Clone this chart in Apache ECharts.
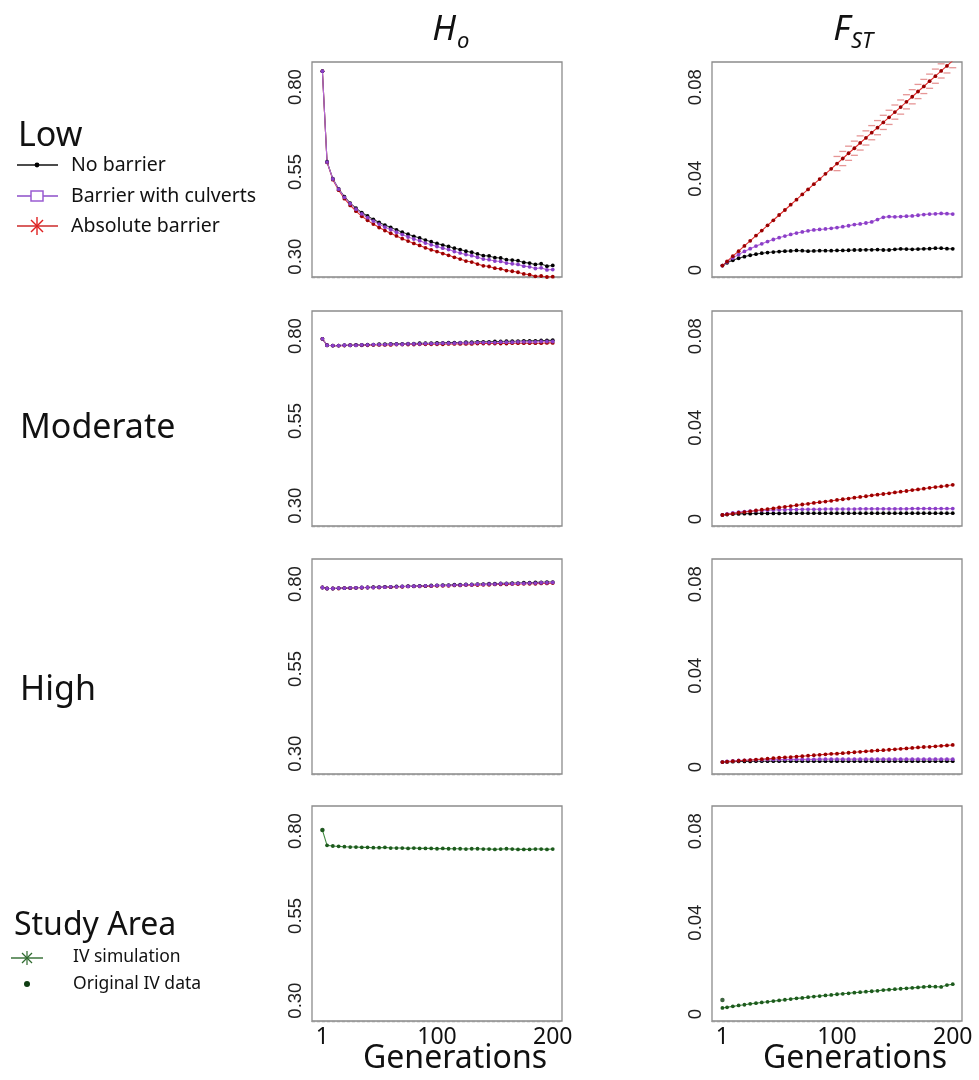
<!DOCTYPE html>
<html><head><meta charset="utf-8">
<script src="https://cdn.jsdelivr.net/npm/echarts@6/dist/echarts.min.js"></script>
<style>html,body{margin:0;padding:0;background:#fff}#c{width:979px;height:1080px}</style>
</head><body><div id="c"></div>
<script>
// ---------------- data ----------------
const generations = [1,5,10,15,20,25,30,35,40,45,50,55,60,65,70,75,80,85,90,95,100,105,110,115,120,125,130,135,140,145,150,155,160,165,170,175,180,185,190,195,200];
const rowNames = ['Low','Moderate','High','Study Area'];
const seriesNames = ['No barrier','Barrier with culverts','Absolute barrier'];
const studyNames = ['IV simulation','Original IV data'];
const hoTicks = [0.30,0.55,0.80];
const fstTicks = [0,0.04,0.08];
const genTicks = [1,100,200];
const xTitle = 'Generations';

// Low - Ho
const lowHoNo = [0.847,0.580,0.530,0.500,0.477,0.458,0.443,0.430,0.420,0.410,0.401,0.393,0.386,0.379,0.372,0.366,0.360,0.355,0.349,0.344,0.339,0.334,0.330,0.325,0.321,0.316,0.313,0.308,0.303,0.302,0.297,0.296,0.291,0.290,0.288,0.283,0.281,0.277,0.279,0.272,0.274];
const lowHoCulv = [0.847,0.579,0.529,0.499,0.475,0.456,0.440,0.426,0.415,0.405,0.396,0.387,0.380,0.372,0.365,0.358,0.352,0.347,0.340,0.335,0.330,0.325,0.321,0.315,0.311,0.306,0.303,0.298,0.293,0.291,0.287,0.286,0.281,0.279,0.277,0.272,0.270,0.265,0.267,0.261,0.262];
const lowHoAbs = [0.847,0.578,0.527,0.496,0.471,0.451,0.434,0.419,0.407,0.396,0.386,0.377,0.369,0.361,0.353,0.346,0.339,0.333,0.326,0.320,0.315,0.309,0.304,0.298,0.293,0.287,0.284,0.278,0.273,0.271,0.266,0.264,0.259,0.257,0.254,0.249,0.247,0.242,0.243,0.240,0.241];
// Low - Fst
const lowFstNo = [0.0020,0.0032,0.0043,0.0052,0.0059,0.0065,0.0070,0.0074,0.0077,0.0079,0.0081,0.0083,0.0084,0.0086,0.0085,0.0083,0.0084,0.0085,0.0085,0.0085,0.0086,0.0086,0.0087,0.0088,0.0088,0.0089,0.0089,0.0090,0.0088,0.0088,0.0091,0.0093,0.0092,0.0091,0.0092,0.0093,0.0094,0.0096,0.0096,0.0094,0.0093];
const lowFstCulv = [0.0020,0.0036,0.0053,0.0068,0.0082,0.0094,0.0105,0.0115,0.0125,0.0134,0.0142,0.0149,0.0156,0.0162,0.0167,0.0172,0.0176,0.0178,0.0180,0.0183,0.0186,0.0190,0.0194,0.0199,0.0202,0.0206,0.0211,0.0221,0.0231,0.0234,0.0233,0.0234,0.0236,0.0237,0.0240,0.0243,0.0245,0.0246,0.0248,0.0247,0.0245];
const lowFstAbs = [0.0020,0.0038,0.0061,0.0083,0.0106,0.0128,0.0151,0.0173,0.0196,0.0218,0.0241,0.0263,0.0286,0.0308,0.0331,0.0353,0.0376,0.0398,0.0421,0.0443,0.0466,0.0488,0.0511,0.0533,0.0556,0.0578,0.0601,0.0623,0.0646,0.0668,0.0691,0.0713,0.0736,0.0758,0.0781,0.0803,0.0826,0.0848,0.0871,0.0893,0.0916];
const ciGenerations = [100,105,110,115,120,125,130,135,140,145,150,155,160,165,170,175,180,185,190,195,200];
const lowFstAbsUpper = [0.0497,0.0519,0.0542,0.0564,0.0587,0.0609,0.0632,0.0654,0.0677,0.0699,0.0722,0.0744,0.0767,0.0789,0.0812,0.0834,0.0857,0.0879,0.0902,0.0924,0.0947];
const lowFstAbsLower = [0.0435,0.0457,0.0480,0.0502,0.0525,0.0547,0.0570,0.0592,0.0615,0.0637,0.0660,0.0682,0.0705,0.0727,0.0750,0.0772,0.0795,0.0817,0.0840,0.0862,0.0885];
// Moderate - Ho
const modHoNo = [0.792,0.773,0.772,0.772,0.773,0.773,0.774,0.774,0.775,0.775,0.776,0.776,0.777,0.777,0.777,0.778,0.778,0.779,0.779,0.779,0.780,0.780,0.781,0.781,0.781,0.782,0.782,0.783,0.783,0.783,0.784,0.784,0.785,0.785,0.785,0.786,0.786,0.786,0.787,0.787,0.788];
const modHoCulv = [0.792,0.773,0.772,0.772,0.773,0.773,0.773,0.774,0.774,0.775,0.775,0.775,0.776,0.776,0.776,0.777,0.777,0.777,0.778,0.778,0.778,0.779,0.779,0.779,0.780,0.780,0.780,0.781,0.781,0.781,0.781,0.782,0.782,0.782,0.783,0.783,0.783,0.783,0.784,0.784,0.784];
const modHoAbs = [0.792,0.773,0.772,0.772,0.772,0.773,0.773,0.773,0.773,0.774,0.774,0.774,0.774,0.775,0.775,0.775,0.775,0.776,0.776,0.776,0.776,0.776,0.777,0.777,0.777,0.777,0.777,0.778,0.778,0.778,0.778,0.778,0.778,0.779,0.779,0.779,0.779,0.779,0.779,0.780,0.780];
// Moderate - Fst
const modFstNo = [0.0018,0.0020,0.0022,0.0023,0.0024,0.0024,0.0025,0.0025,0.0025,0.0025,0.0025,0.0026,0.0026,0.0026,0.0026,0.0026,0.0026,0.0026,0.0026,0.0026,0.0026,0.0026,0.0026,0.0026,0.0026,0.0026,0.0026,0.0026,0.0026,0.0026,0.0026,0.0026,0.0026,0.0026,0.0026,0.0026,0.0026,0.0026,0.0026,0.0026,0.0026];
const modFstCulv = [0.0018,0.0023,0.0027,0.0031,0.0033,0.0035,0.0037,0.0038,0.0039,0.0040,0.0041,0.0041,0.0042,0.0042,0.0043,0.0043,0.0043,0.0043,0.0044,0.0044,0.0044,0.0044,0.0044,0.0044,0.0045,0.0045,0.0045,0.0045,0.0045,0.0045,0.0045,0.0045,0.0045,0.0046,0.0046,0.0046,0.0046,0.0046,0.0046,0.0046,0.0046];
const modFstAbs = [0.0018,0.0021,0.0024,0.0028,0.0031,0.0034,0.0038,0.0041,0.0044,0.0047,0.0051,0.0054,0.0057,0.0061,0.0064,0.0067,0.0071,0.0074,0.0077,0.0080,0.0084,0.0087,0.0090,0.0094,0.0097,0.0100,0.0104,0.0107,0.0110,0.0113,0.0117,0.0120,0.0123,0.0127,0.0130,0.0133,0.0137,0.0140,0.0143,0.0146,0.0150];
// High - Ho
const highHoNo = [0.790,0.787,0.787,0.788,0.788,0.789,0.789,0.790,0.790,0.791,0.791,0.792,0.792,0.793,0.793,0.794,0.794,0.795,0.795,0.796,0.796,0.797,0.797,0.798,0.798,0.799,0.799,0.800,0.800,0.801,0.801,0.802,0.802,0.803,0.803,0.804,0.804,0.805,0.805,0.806,0.806];
const highHoCulv = [0.790,0.787,0.787,0.788,0.788,0.789,0.789,0.790,0.790,0.790,0.791,0.791,0.792,0.792,0.793,0.793,0.794,0.794,0.795,0.795,0.796,0.796,0.796,0.797,0.797,0.798,0.798,0.799,0.799,0.800,0.800,0.801,0.801,0.801,0.802,0.802,0.803,0.803,0.804,0.804,0.805];
const highHoAbs = [0.790,0.787,0.787,0.787,0.788,0.788,0.789,0.789,0.790,0.790,0.790,0.791,0.791,0.792,0.792,0.793,0.793,0.793,0.794,0.794,0.795,0.795,0.795,0.796,0.796,0.797,0.797,0.797,0.798,0.798,0.799,0.799,0.799,0.800,0.800,0.801,0.801,0.801,0.802,0.802,0.803];
// High - Fst
const highFstNo = [0.0022,0.0023,0.0024,0.0025,0.0025,0.0025,0.0026,0.0026,0.0026,0.0026,0.0026,0.0026,0.0026,0.0026,0.0026,0.0026,0.0026,0.0026,0.0026,0.0026,0.0026,0.0026,0.0026,0.0026,0.0026,0.0026,0.0026,0.0026,0.0026,0.0026,0.0026,0.0026,0.0026,0.0026,0.0026,0.0026,0.0026,0.0026,0.0026,0.0026,0.0026];
const highFstCulv = [0.0022,0.0025,0.0027,0.0029,0.0030,0.0031,0.0032,0.0032,0.0033,0.0033,0.0033,0.0034,0.0034,0.0034,0.0034,0.0034,0.0034,0.0035,0.0035,0.0035,0.0035,0.0035,0.0035,0.0035,0.0035,0.0035,0.0035,0.0035,0.0035,0.0035,0.0035,0.0035,0.0035,0.0035,0.0035,0.0035,0.0035,0.0035,0.0035,0.0035,0.0035];
const highFstAbs = [0.0022,0.0024,0.0026,0.0028,0.0030,0.0031,0.0033,0.0035,0.0037,0.0039,0.0041,0.0043,0.0044,0.0046,0.0048,0.0050,0.0052,0.0054,0.0056,0.0058,0.0059,0.0061,0.0063,0.0065,0.0067,0.0069,0.0071,0.0073,0.0074,0.0076,0.0078,0.0080,0.0082,0.0084,0.0086,0.0088,0.0089,0.0091,0.0093,0.0095,0.0097];
// Study Area
const studyHoSim = [0.803,0.758,0.756,0.755,0.754,0.753,0.753,0.752,0.752,0.751,0.751,0.752,0.750,0.750,0.750,0.749,0.750,0.749,0.749,0.749,0.748,0.749,0.748,0.748,0.748,0.747,0.748,0.748,0.747,0.747,0.746,0.747,0.748,0.747,0.746,0.746,0.746,0.747,0.747,0.746,0.747];
const studyHoOrig = [0.803];
const studyFstSim = [0.0027,0.0030,0.0034,0.0038,0.0041,0.0045,0.0048,0.0051,0.0054,0.0057,0.0060,0.0063,0.0066,0.0069,0.0071,0.0074,0.0077,0.0079,0.0082,0.0084,0.0087,0.0089,0.0091,0.0094,0.0096,0.0098,0.0100,0.0102,0.0105,0.0107,0.0109,0.0111,0.0113,0.0115,0.0117,0.0119,0.0121,0.0120,0.0119,0.0127,0.0131];
const studyFstOrig = [0.0062];
const origGeneration = [1];

// ---------------- styling ----------------
const COL = {
  no:   {line:'#3a3a3a', dot:'#000000'},
  culv: {line:'#b868d8', dot:'#8a3fc8'},
  abs:  {line:'#e23030', dot:'#9a0000'},
  sim:  {line:'#3f8a3f', dot:'#1d5a1d'},
  orig: {line:'#0f3d12', dot:'#0f3d12'}
};
const LEFT = [312, 712], WIDTH = 250, TOPS = [62, 311, 559, 806], HEIGHT = 215;

const panels = [
  {r:0,c:0,k:'ho', s:[[seriesNames[2],lowHoAbs,'abs'],[seriesNames[0],lowHoNo,'no'],[seriesNames[1],lowHoCulv,'culv']]},
  {r:0,c:1,k:'fst',s:[[seriesNames[0],lowFstNo,'no'],[seriesNames[1],lowFstCulv,'culv'],[seriesNames[2],lowFstAbs,'abs']], ci:true},
  {r:1,c:0,k:'ho', s:[[seriesNames[2],modHoAbs,'abs'],[seriesNames[0],modHoNo,'no'],[seriesNames[1],modHoCulv,'culv']]},
  {r:1,c:1,k:'fst',s:[[seriesNames[0],modFstNo,'no'],[seriesNames[1],modFstCulv,'culv'],[seriesNames[2],modFstAbs,'abs']]},
  {r:2,c:0,k:'ho', s:[[seriesNames[2],highHoAbs,'abs'],[seriesNames[0],highHoNo,'no'],[seriesNames[1],highHoCulv,'culv']]},
  {r:2,c:1,k:'fst',s:[[seriesNames[0],highFstNo,'no'],[seriesNames[1],highFstCulv,'culv'],[seriesNames[2],highFstAbs,'abs']]},
  {r:3,c:0,k:'ho', s:[[studyNames[0],studyHoSim,'sim']], orig:studyHoOrig},
  {r:3,c:1,k:'fst',s:[[studyNames[0],studyFstSim,'sim']], orig:studyFstOrig}
];

const grid=[], xAxis=[], yAxis=[], series=[];
panels.forEach((p,i)=>{
  grid.push({left:LEFT[p.c], top:TOPS[p.r], width:WIDTH, height:HEIGHT, show:true,
    borderColor:'#8c8c8c', borderWidth:1.3, backgroundColor:'transparent'});
  const bottom = p.r===3;
  xAxis.push({type:'value', gridIndex:i, min:-8, max:208,
    axisLine:{show:true, onZero:false, lineStyle:{color:'#9a9a9a', width:1.3, type:[3,2]}},
    axisTick:{show:false}, splitLine:{show:false},
    axisLabel:{show:bottom, customValues:genTicks, fontSize:23, fontFamily:'Noto Sans', color:'#111', margin:5}
  });
  const ho = p.k==='ho';
  yAxis.push({type:'value', gridIndex:i,
    min: ho ? 0.240 : -0.003, max: ho ? 0.874 : 0.091,
    axisLine:{show:false}, splitLine:{show:false}, axisTick:{show:false},
    axisLabel:{customValues: ho ? hoTicks : fstTicks, rotate:90, fontSize:18.5, fontFamily:'Liberation Sans', color:'#222', margin:7,
      formatter: v => ho ? v.toFixed(2) : (v===0 ? '0' : v.toFixed(2))}
  });
  p.s.forEach(([name, arr, key])=>{
    series.push({type:'line', name, xAxisIndex:i, yAxisIndex:i,
      data: generations.map((g,j)=>[g, arr[j]]),
      symbol:'circle', symbolSize:3.8, showSymbol:true, silent:true, animation:false,
      lineStyle:{color:COL[key].line, width:1.1},
      itemStyle:{color:COL[key].dot}
    });
  });
  if (p.ci) {
    [lowFstAbsUpper, lowFstAbsLower].forEach(arr=>{
      series.push({type:'scatter', xAxisIndex:i, yAxisIndex:i, silent:true, animation:false,
        data: ciGenerations.map((g,j)=>[g, arr[j]]), symbol:'rect', symbolSize:[7,1.3],
        itemStyle:{color:'#e07a7a'}, clip:true});
    });
  }
  if (p.orig) {
    series.push({type:'scatter', name:studyNames[1], xAxisIndex:i, yAxisIndex:i, silent:true, animation:false,
      data: origGeneration.map((g,j)=>[g, p.orig[j]]), symbol:'circle', symbolSize:4.5,
      itemStyle:{color:COL.orig.dot}});
  }
});

// ---------------- text / legend decorations ----------------
const F = '"Noto Sans", "Open Sans", sans-serif';
const txt = (x,y,text,size,opt={}) => ({type:'text', x, y, silent:true,
  style:Object.assign({text, font:(opt.italic?'italic ':'')+size+'px '+F, fill:'#111',
    textAlign:opt.align||'left', textVerticalAlign:'middle'}, opt.style||{})});
const ln = (x1,y1,x2,y2,color,w) => ({type:'line', silent:true, shape:{x1,y1,x2,y2}, style:{stroke:color, lineWidth:w||1.5}});

const graphic = [
  txt(456,30,'H',35,{italic:true,align:'right'}),
  txt(457,42,'o',22,{italic:true}),
  txt(850,30,'F',35,{italic:true,align:'right'}),
  txt(851,42,'ST',22,{italic:true}),
  txt(18,136,rowNames[0],34),
  txt(20,428,rowNames[1],34),
  txt(20,690,rowNames[2],34),
  txt(14,926,rowNames[3],32),
  txt(455,1059,xTitle,32,{align:'center'}),
  txt(855,1059,xTitle,32,{align:'center'}),
  // Low legend
  ln(17,165,58,165,'#111',1.6),
  {type:'circle', silent:true, shape:{cx:37,cy:165,r:2.4}, style:{fill:'#000'}},
  txt(71,165,seriesNames[0],19.5),
  ln(17,196,58,196,'#8c4ec8',1.6),
  {type:'rect', silent:true, shape:{x:31,y:191,width:12,height:10}, style:{fill:'#fff', stroke:'#9a5cd2', lineWidth:1.5}},
  txt(71,196,seriesNames[1],19.5),
  ln(17,226,58,226,'#cc2a2a',1.6),
  ln(37,217,37,235,'#e02020',1.4),
  ln(31,220,43,232,'#e02020',1.4),
  ln(43,220,31,232,'#e02020',1.4),
  txt(71,226,seriesNames[2],19.5),
  // Study legend
  ln(11,958,43,958,'#2f6b2f',1.4),
  ln(27,951,27,965,'#2f6b2f',1.2),
  ln(22,953,32,963,'#2f6b2f',1.2),
  ln(32,953,22,963,'#2f6b2f',1.2),
  txt(73,957,studyNames[0],17.5),
  {type:'circle', silent:true, shape:{cx:27,cy:984,r:3}, style:{fill:'#0f3d12'}},
  txt(73,984,studyNames[1],17.5)
];

const chart = echarts.init(document.getElementById('c'), null, {renderer:'canvas'});
chart.setOption({animation:false, backgroundColor:'#fff', grid, xAxis, yAxis, series, graphic});
</script>
</body></html>
